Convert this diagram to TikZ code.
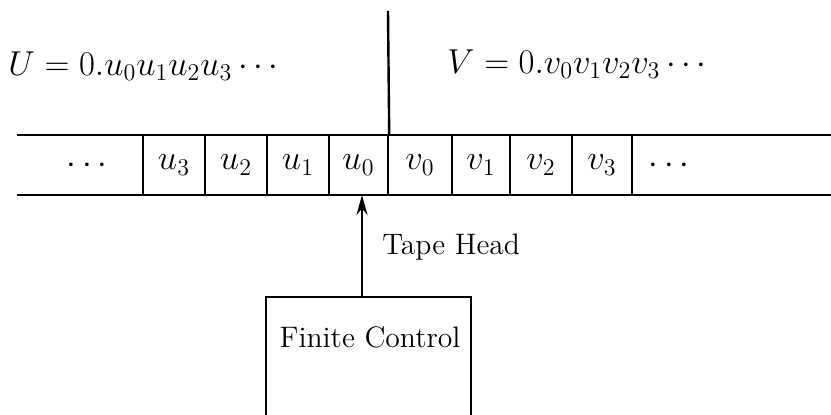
\documentclass[tikz,border=0pt]{standalone}
\usepackage{amsmath}
\usetikzlibrary{arrows.meta}
\tikzset{
  tapeline/.style={line width=1.2pt},
  cell/.style={draw, line width=1.2pt, minimum height=30pt, inner sep=0pt, anchor=center},
  lbl/.style={inner sep=0pt, font=\fontsize{14.8}{17}\selectfont},
  mlbl/.style={inner sep=0pt, font=\fontsize{17}{20}\selectfont},
}
\begin{document}
\begin{tikzpicture}[x=0.5pt,y=-0.5pt]
\useasboundingbox (0,0) rectangle (831,415);
% the two numbers
\node[mlbl, anchor=west] (U) at (8,66) {$U=0.u_0u_1u_2u_3\cdots$};
\node[mlbl, anchor=west] (V) at (447,64) {$V=0.v_0v_1v_2v_3\cdots$};
% the tape
\draw[tapeline] (17,135) -- (831,135);
\draw[tapeline] (17,195) -- (831,195);
\node[mlbl] (ldots) at (90,166) {$\cdots$};
\node[cell, mlbl, minimum width=31pt] (u3) at (174,165) {$u_3$};
\node[cell, mlbl, minimum width=31pt] (u2) at (236,165) {$u_2$};
\node[cell, mlbl, minimum width=31pt] (u1) at (298,165) {$u_1$};
\node[cell, mlbl, minimum width=29.5pt] (u0) at (358.5,165) {$u_0$};
\node[cell, mlbl, minimum width=32pt] (v0) at (420,165) {$v_0$};
\node[cell, mlbl, minimum width=29pt] (v1) at (481,165) {$v_1$};
\node[cell, mlbl, minimum width=31pt] (v2) at (541,165) {$v_2$};
\node[cell, mlbl, minimum width=30pt] (v3) at (602,165) {$v_3$};
\node[mlbl] (rdots) at (672,166) {$\cdots$};
% the point between u_0 and v_0
\coordinate (ptop) at (388,11);
\draw[tapeline] (ptop) -- (u0.north east);
% the head and the control
\coordinate (head) at (362,195);
\coordinate (fctop) at (362,297);
\draw[tapeline] (266,415) -- (266,297) -- (471,297) -- (471,415);
\node[lbl] (fc) at (370,337) {Finite Control};
\draw[tapeline, -{Stealth[length=10pt,width=5.5pt]}] (fctop) -- (head);
\node[lbl, anchor=west] (th) at (382,247) {Tape Head};
\end{tikzpicture}
\end{document}
